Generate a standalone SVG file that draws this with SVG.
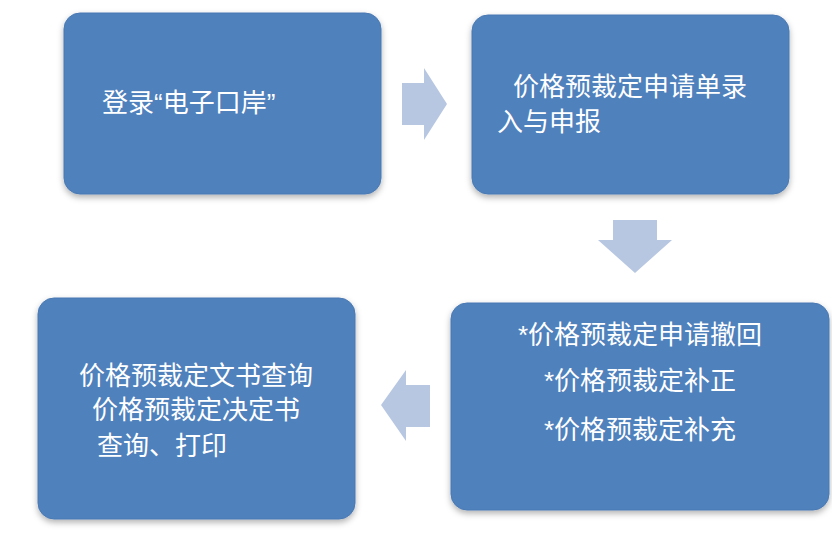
<svg xmlns="http://www.w3.org/2000/svg" width="832" height="555" viewBox="0 0 832 555">
<style>
.box{fill:#4f81bd;stroke:#4a79b3;stroke-width:1}
.t{font-family:"Liberation Sans","Noto Sans CJK SC",sans-serif;font-size:26px;fill:#fff}
.arr{fill:#b7c7e2}
</style>
<defs><filter id="sh" x="-10%" y="-10%" width="120%" height="125%"><feDropShadow dx="0" dy="3" stdDeviation="3" flood-color="#000" flood-opacity="0.3"/></filter></defs>
<rect width="832" height="555" fill="#fff"/>
<g id="connectors">
<polygon class="arr" points="402,83 424,83 424,68 447,104 424,140 424,125 402,125"/>
<polygon class="arr" points="613,220 657,220 657,240 672,240 635,273 598,240 613,240"/>
<polygon class="arr" points="430,385 406,385 406,370 381,405 406,441 406,427 430,427"/>
</g>
<g id="n1"><rect class="box" filter="url(#sh)" x="64" y="13" width="317" height="181" rx="16"/>
<text class="t" x="102" y="112">登录“电子口岸”</text></g>
<g id="n2"><rect class="box" filter="url(#sh)" x="472" y="15" width="317" height="179" rx="16"/>
<text class="t" x="630" y="96" text-anchor="middle">价格预裁定申请单录</text>
<text class="t" x="549" y="131" text-anchor="middle">入与申报</text></g>
<g id="n3"><rect class="box" filter="url(#sh)" x="451" y="303" width="378" height="207" rx="16"/>
<text class="t" x="640" y="344" text-anchor="middle">*价格预裁定申请撤回</text>
<text class="t" x="640" y="390" text-anchor="middle">*价格预裁定补正</text>
<text class="t" x="640" y="439" text-anchor="middle">*价格预裁定补充</text></g>
<g id="n4"><rect class="box" filter="url(#sh)" x="38" y="298" width="317" height="221" rx="16"/>
<text class="t" x="196" y="385" text-anchor="middle">价格预裁定文书查询</text>
<text class="t" x="196" y="419" text-anchor="middle">价格预裁定决定书</text>
<text class="t" x="162" y="455" text-anchor="middle">查询、打印</text></g>
</svg>
